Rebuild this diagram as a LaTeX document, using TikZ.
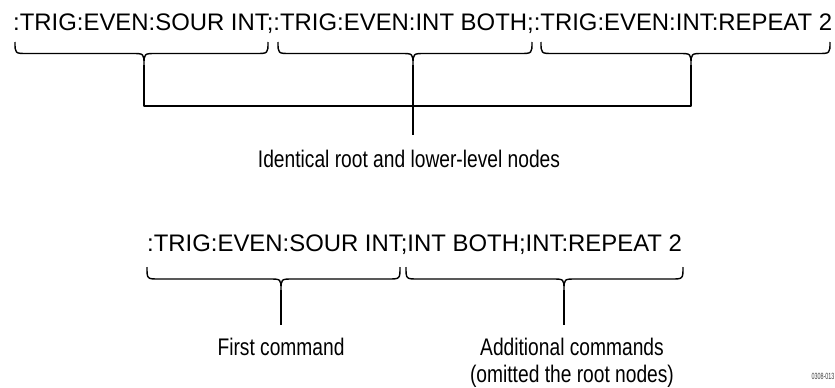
\documentclass[tikz,border=0pt]{standalone}
\usepackage{fontspec}
\setmainfont{Liberation Sans}
\tikzset{
  ln/.style={draw=black, line width=1.4pt, line join=round},
  cmd/.style={inner sep=0pt, anchor=base west, font=\fontsize{23.9}{27}\selectfont},
  lbl/.style={inner sep=0pt, anchor=base, font=\fontsize{24}{27}\selectfont, align=center},
  tag/.style={inner sep=0pt, anchor=base, font=\fontsize{9}{10}\selectfont, text=black!75}
}
\newcommand{\cbrace}[6]{% x0, x1, c, ytop, yh, ytip
  \draw[ln] (#1,#4) .. controls (#1,#5) .. (#1+12,#5) -- (#3-12,#5)
    .. controls (#3,#5) .. (#3,#6) .. controls (#3,#5) .. (#3+12,#5)
    -- (#2-12,#5) .. controls (#2,#5) .. (#2,#4);}
\begin{document}
\begin{tikzpicture}[x=1pt,y=-1pt]
\useasboundingbox (0,0) rectangle (835,388);
% top line
\node[cmd] (top) at (13,30.5) {:TRIG:EVEN:SOUR INT;:TRIG:EVEN:INT BOTH;:TRIG:EVEN:INT:REPEAT 2};
\cbrace{15}{268}{144}{42}{53.5}{65}
\cbrace{278}{532}{413}{42}{53.5}{65}
\cbrace{541}{830}{691}{42}{53.5}{65}
\coordinate (t1) at (144,65);
\coordinate (t2) at (413,65);
\coordinate (t3) at (691,65);
\coordinate (j1) at (144,106);
\coordinate (j3) at (691,106);
\coordinate (j2) at (413,135);
\draw[ln] (t1) -- (j1) -- (j3) -- (t3);
\draw[ln] (t2) -- (j2);
\node[lbl] (ident) at (409,167) {\scalebox{0.8}[1]{Identical root and lower-level nodes}};
% bottom line
\node[cmd] (bot) at (147,251) {:TRIG:EVEN:SOUR INT;INT BOTH;INT:REPEAT 2};
\cbrace{147}{400}{281}{267}{279}{290}
\cbrace{406}{683}{564}{267}{279}{290}
\coordinate (b1) at (281,290);
\coordinate (b2) at (564,290);
\coordinate (e1) at (281,325);
\coordinate (e2) at (564,325);
\draw[ln] (b1) -- (e1);
\draw[ln] (b2) -- (e2);
\node[lbl] (first) at (281,355) {\scalebox{0.8}[1]{First command}};
\node[lbl] (addl) at (572,355) {\scalebox{0.8}[1]{Additional commands}};
\node[lbl] (omit) at (572,382) {\scalebox{0.8}[1]{(omitted the root nodes)}};
\node[tag] (code) at (823,379) {\scalebox{0.6}[1]{0308-013}};
\end{tikzpicture}
\end{document}
